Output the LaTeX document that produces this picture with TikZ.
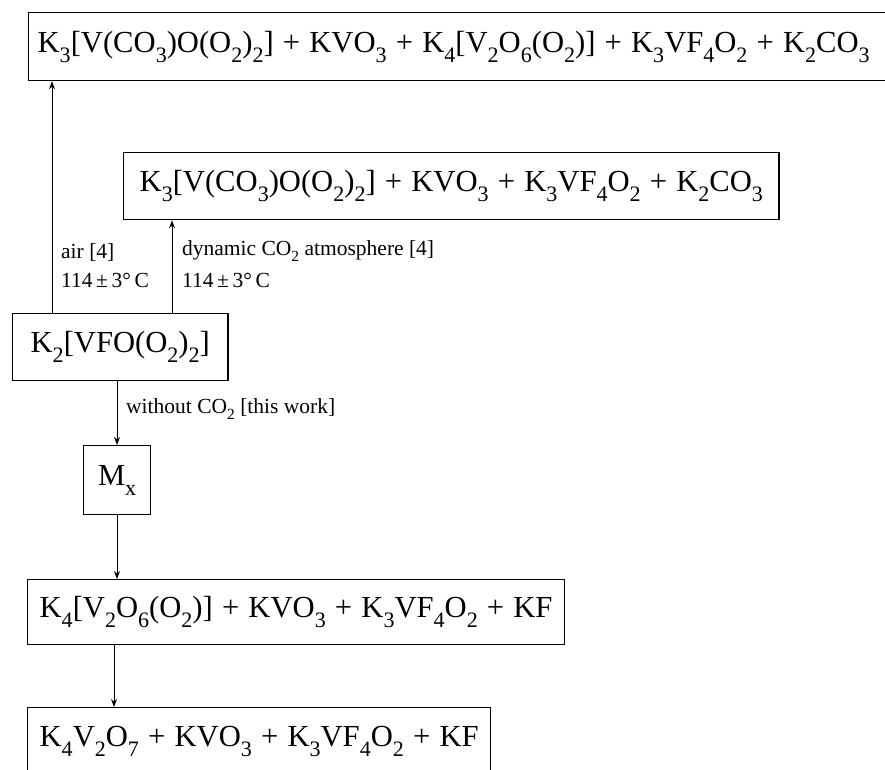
\documentclass[tikz,border=0pt]{standalone}
\usepackage{fontspec}
\setmainfont{Liberation Serif}
\usetikzlibrary{arrows.meta,calc}
\newcommand{\lo}[1]{\raisebox{-0.32em}{\scalebox{0.72}{#1}}}
\newcommand{\pl}{\hspace{0.3em}+\hspace{0.3em}}
\tikzset{
  box/.style={draw, line width=1.3pt, inner xsep=10pt, inner ysep=0pt, minimum height=66pt, font=\fontsize{30.6}{33}\selectfont},
  lbl/.style={anchor=west, inner sep=0pt, font=\fontsize{21.5}{24}\selectfont},
  arr/.style={line width=1pt, -{Stealth[length=8pt,width=6pt]}}
}
\begin{document}
\begin{tikzpicture}[x=1pt,y=-1pt]
\clip (0,0) rectangle (885,770);
\fill[white] (0,0) rectangle (885,770);
% top product box (right edge outside picture)
\node[box, anchor=north west, text width=880pt, align=left, inner xsep=9pt, minimum height=68pt] (top) at (28,12)
  {K\lo{3}[V(CO\lo{3})O(O\lo{2})\lo{2}]\pl KVO\lo{3}\pl K\lo{4}[V\lo{2}O\lo{6}(O\lo{2})]\pl K\lo{3}VF\lo{4}O\lo{2}\pl K\lo{2}CO\lo{3}};
% second box
\node[box, anchor=north west, minimum height=67pt, inner xsep=16pt] (co2) at (123,152)
  {K\lo{3}[V(CO\lo{3})O(O\lo{2})\lo{2}]\pl KVO\lo{3}\pl K\lo{3}VF\lo{4}O\lo{2}\pl K\lo{2}CO\lo{3}};
% starting compound
\node[box, anchor=north west, minimum height=67pt, inner xsep=18pt] (k2) at (12,313)
  {K\lo{2}[VFO(O\lo{2})\lo{2}]};
% intermediate
\node[box, anchor=north west, minimum height=69pt, minimum width=67pt, inner xsep=6pt] (mx) at (83,445)
  {M\lo{x}};
% K4 box
\node[box, anchor=north west, minimum height=65pt, inner xsep=12pt] (k4) at (27,579)
  {K\lo{4}[V\lo{2}O\lo{6}(O\lo{2})]\pl KVO\lo{3}\pl K\lo{3}VF\lo{4}O\lo{2}\pl KF};
% final box (bottom edge just outside picture)
\node[box, anchor=north west, minimum height=67pt, inner xsep=12pt] (fin) at (27,707)
  {K\lo{4}V\lo{2}O\lo{7}\pl KVO\lo{3}\pl K\lo{3}VF\lo{4}O\lo{2}\pl KF};
% arrows
\coordinate (airS) at ([xshift=40pt]k2.north west);
\coordinate (dynS) at ([xshift=160pt]k2.north west);
\draw[arr] (airS) -- (airS |- top.south);
\draw[arr] (dynS) -- (dynS |- co2.south);
\coordinate (woS) at ([xshift=105pt]k2.south west);
\draw[arr] (woS) -- (woS |- mx.north);
\coordinate (mxS) at ([xshift=34pt]mx.south west);
\draw[arr] (mxS) -- (mxS |- k4.north);
\coordinate (k4S) at ([xshift=87pt]k4.south west);
\draw[arr] (k4S) -- (k4S |- fin.north);
% labels
\node[lbl] (l1) at (61,252) {air [4]};
\node[lbl] (l2) at (61,280) {114\,±\,3°\,C};
\node[lbl] (l3) at (182,251) {dynamic CO\lo{2} atmosphere [4]};
\node[lbl] (l4) at (182,280) {114\,±\,3°\,C};
\node[lbl] (l5) at (126,409) {without CO\lo{2} [this work]};
\end{tikzpicture}
\end{document}
